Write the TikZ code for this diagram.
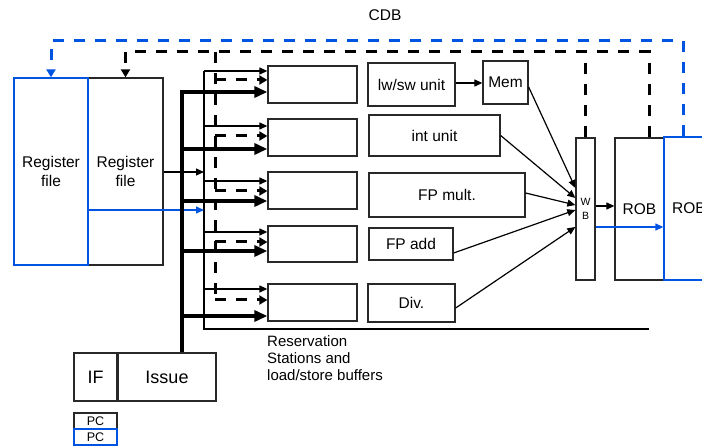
\documentclass[tikz,border=0pt]{standalone}
\usepackage{fontspec}
\setmainfont{Liberation Sans}
\usetikzlibrary{arrows.meta,calc}
\definecolor{cdbblue}{RGB}{0,84,226}
\definecolor{edge}{RGB}{40,40,40}

\begin{document}
\begin{tikzpicture}[x=1pt,y=-1pt,
  box/.style={draw=edge,line width=1.3pt,inner sep=0pt,align=center,text=black,
    font=\fontsize{15.5}{19}\selectfont},
  bbox/.style={box,draw=cdbblue},
  wire/.style={line width=1.2pt,draw=black},
  warrow/.style={wire,-{Triangle[length=8pt,width=7pt]}},
  busline/.style={line width=4.5pt,-{Triangle[length=13pt,width=11pt]}},
  cdbline/.style={line width=3pt,dash pattern=on 11pt off 10pt},
  cdbtip/.style={-{Triangle[length=8pt,width=9pt]}},
]
\useasboundingbox (0,0) rectangle (702,446);
\clip (0,0) rectangle (702,446);

% register files
\node[box,minimum width=75pt,minimum height=187pt] (rf) at (125.5,171.5) {Register\\file};
\node[bbox,minimum width=74pt,minimum height=187pt] (rfb) at (51,171.5) {Register\\file};

% reservation stations
\node[box,minimum width=89pt,minimum height=37pt] (rs1) at (312.5,84.5) {};
\node[box,minimum width=89pt,minimum height=37pt] (rs2) at (312.5,137.5) {};
\node[box,minimum width=89pt,minimum height=37pt] (rs3) at (312.5,190.5) {};
\node[box,minimum width=89pt,minimum height=36pt] (rs4) at (312.5,244) {};
\node[box,minimum width=89pt,minimum height=37pt] (rs5) at (312.5,302.5) {};

% functional units
\node[box,minimum width=87pt,minimum height=43pt] (lsu) at (411.5,84.5) {lw/sw unit};
\node[box,minimum width=45pt,minimum height=43pt] (mem) at (505.5,82.5) {Mem};
\node[box,minimum width=131pt,minimum height=41pt] (intu) at (434.5,135.5) {int unit};
\node[box,minimum width=156pt,minimum height=44pt] (fpm) at (447,195) {FP mult.};
\node[box,minimum width=84pt,minimum height=32pt] (fpa) at (411,244) {FP add};
\node[box,minimum width=87pt,minimum height=38pt] (div) at (411.5,303) {Div.};

% write-back and reorder buffers
\node[box,minimum width=19pt,minimum height=142pt,font=\fontsize{10.5}{14}\selectfont] (wb) at (585.5,209) {W\\B};
\node[box,minimum width=49pt,minimum height=142pt] (rob) at (639.5,209) {ROB};
\node[bbox,minimum width=50pt,minimum height=143pt] (robb) at (689,208.5) {ROB};

% front end
\node[box,minimum width=43pt,minimum height=48pt,font=\fontsize{18}{22}\selectfont] (ifb) at (95.5,377) {IF};
\node[box,minimum width=98pt,minimum height=48pt,font=\fontsize{18}{22}\selectfont] (iss) at (167,377) {Issue};
\node[box,minimum width=43pt,minimum height=16pt,font=\fontsize{12.5}{14}\selectfont] (pc1) at (95.5,421) {PC};
\node[bbox,minimum width=43pt,minimum height=16pt,font=\fontsize{12.5}{14}\selectfont] (pc2) at (95.5,437) {PC};

% labels
\node[font=\fontsize{15.5}{19}\selectfont] (cdb) at (385,15) {CDB};
\node[anchor=west,align=left,inner sep=0pt,font=\fontsize{15}{17}\selectfont] (rslabel) at (267,358)
  {Reservation\\Stations and\\load/store buffers};

% common data buses
\coordinate (cdbB) at (683,41);
\draw[cdbline,draw=cdbblue,cdbtip] (cdbB |- robb.north) -- (cdbB) -| (rfb.north);
\coordinate (cdbK) at (649,52);
\draw[cdbline,cdbtip] (cdbK |- rob.north) -- (cdbK) -| (rf.north);
\draw[cdbline] (wb.north) -- (wb.north |- cdbK);
\coordinate (rsK) at (215,52);
\draw[cdbline] (rsK) -- (rsK |- 0,300);
\foreach \n/\y in {1/80,2/136,3/191,4/242,5/300}
  \draw[cdbline,cdbtip] (rsK |- 0,\y) -- (rs\n.west |- 0,\y);

% operand bus from the register files
\coordinate (tbus) at (204,71);
\coordinate (tend) at (649,329);
\draw[wire] (tbus) -- (tbus |- tend) -- (tend);
\foreach \n/\y in {1/71,2/126,3/181,4/232,5/289}
  \draw[warrow] (tbus |- 0,\y) -- (rs\n.west |- 0,\y);
\draw[warrow] (rf.east |- 0,172) -- (tbus |- 0,172);
\draw[warrow,draw=cdbblue] (rfb.east |- 0,210) -- (tbus |- 0,210);

% issue bus
\coordinate (bus) at (182,92);
\draw[busline] (bus |- iss.north) -- (bus) -- (rs1.west |- bus);
\foreach \n/\y in {2/149,3/201,4/251,5/316}
  \draw[busline] (bus |- 0,\y) -- (rs\n.west |- 0,\y);

% results to write-back
\draw[warrow] (lsu.east |- 0,83) -- (mem.west |- 0,83);
\draw[warrow] (mem.east |- 0,87) -- (wb.west |- 0,188);
\draw[warrow] (intu.east) -- (wb.west |- 0,198);
\draw[warrow] (fpm.east |- 0,193) -- (wb.west |- 0,205);
\draw[warrow] (fpa.east |- 0,253) -- (wb.west |- 0,210);
\draw[warrow] (div.east |- 0,308) -- (wb.west |- 0,227);
\draw[warrow] (wb.east |- 0,206) -- (rob.west |- 0,206);
\draw[warrow,draw=cdbblue] (wb.east |- 0,227) -- (robb.west |- 0,227);
\end{tikzpicture}
\end{document}
